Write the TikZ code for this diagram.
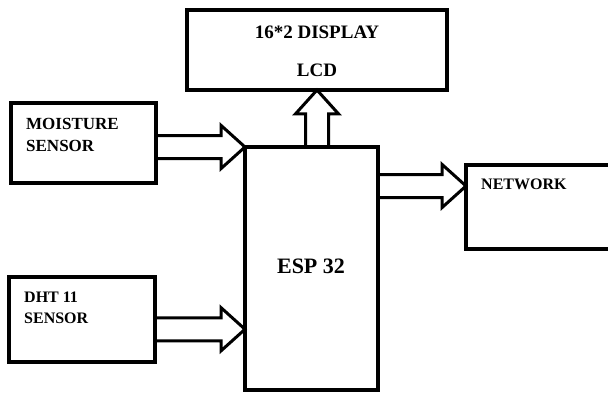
\documentclass[tikz,border=0pt]{standalone}
\usepackage{fontspec}
\setmainfont{Liberation Serif}
\usetikzlibrary{calc,shapes.arrows}
\tikzset{
  blk/.style={draw, line width=3.2pt, inner sep=0pt, outer sep=0pt},
  hollow/.style={single arrow, draw, line width=3pt, inner xsep=0pt, inner ysep=10pt, outer sep=0pt,
    minimum width=0pt, single arrow head extend=10pt, single arrow tip angle=84},
  lbl/.style={inner sep=0pt, font=\bfseries}
}
% wide outline arrow from #2 to #3, node name #1
\newcommand{\fatarrow}[3]{%
  \path let \p1=(#2), \p2=(#3), \n1={atan2(\y2-\y1,\x2-\x1)}, \n2={veclen(\x2-\x1,\y2-\y1)} in
    node[hollow, minimum height=\n2, rotate=\n1, anchor=tail] (#1) at (\p1) {};}

\begin{document}
\begin{tikzpicture}[x=1pt,y=1pt]
\useasboundingbox (0,0) rectangle (608,392);
\clip (0,0) rectangle (608,392);
% boxes
\node[blk, minimum width=260pt, minimum height=80pt] (lcd) at (317,342) {};
\node[blk, minimum width=145pt, minimum height=80pt] (moist) at (83.5,249) {};
\node[blk, minimum width=146pt, minimum height=85pt] (dht) at (82,72.5) {};
\node[blk, minimum width=133pt, minimum height=243pt] (esp) at (311.5,123.5) {};
\node[blk, minimum width=170pt, minimum height=84pt] (net) at (551,185) {};
% texts
\node[lbl, anchor=north, align=center, font=\bfseries\fontsize{19}{38}\selectfont] (lcdtxt) at (317,366) {16*2 DISPLAY\\LCD};
\node[lbl, anchor=north west, align=left, font=\bfseries\fontsize{17}{22}\selectfont] (moisttxt) at (26,274) {MOISTURE\\SENSOR};
\node[lbl, anchor=north west, align=left, font=\bfseries\fontsize{16}{21}\selectfont] (dhttxt) at (24,100) {DHT 11\\SENSOR};
\node[lbl, anchor=north west, font=\bfseries\fontsize{16}{20}\selectfont] (nettxt) at (481,213) {NETWORK};
\node[lbl, font=\bfseries\fontsize{22}{26}\selectfont] (esptxt) at (311,126) {ESP 32};
% arrows
\coordinate (dhtin) at ($(esp.south west)!0.25!(esp.north west)$);
\coordinate (netin) at ($(net.north west)!0.25!(net.south west)$);
\fatarrow{moistarr}{moist.east |- esp.north west}{esp.north west}
\fatarrow{dhtarr}{dht.east |- dhtin}{dhtin}
\fatarrow{lcdarr}{lcd.south |- esp.north}{lcd.south}
\fatarrow{netarr}{esp.east |- netin}{netin}
\end{tikzpicture}
\end{document}
